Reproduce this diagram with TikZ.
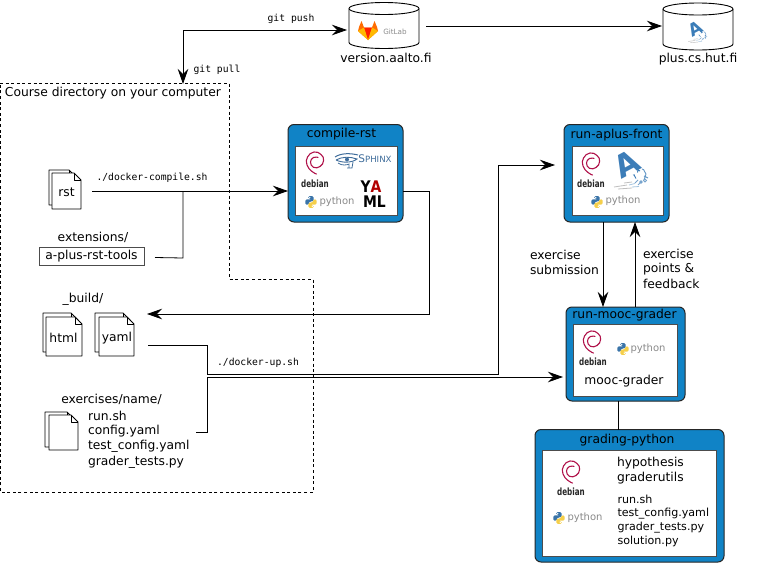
\documentclass[tikz,border=0pt]{standalone}
\usepackage{fontspec}
\setmainfont{DejaVu Sans}
\setmonofont{DejaVu Sans Mono}
\usetikzlibrary{arrows.meta}
\definecolor{boxblue}{HTML}{1083C6}
\definecolor{debred}{HTML}{B0124A}
\definecolor{pyblue}{HTML}{3A74A8}
\definecolor{pyyellow}{HTML}{F5CF4A}
\definecolor{pygray}{HTML}{8A8A8A}
\definecolor{aplusblue}{HTML}{3C7DB8}
\definecolor{sphinxblue}{HTML}{3F6D9B}
\tikzset{
  x=1pt,y=-1pt,
  every node/.style={inner sep=0pt,outer sep=0pt,font=\fontsize{12.3}{14}\selectfont},
  arr/.style={-{Stealth[length=15pt,width=10.5pt,inset=5pt]},line width=0.8pt,black},
  plain/.style={line width=0.8pt,black},
  outerbox/.style={draw=black!85,line width=1pt,fill=boxblue,rounded corners=6pt},
  innerbox/.style={draw=black!70,line width=0.8pt,fill=white},
  mono/.style={font=\ttfamily\fontsize{9.7}{11}\selectfont},
  small/.style={font=\fontsize{11.1}{13}\selectfont},
  pagefile/.style={draw=black,line width=0.9pt,fill=white,line join=round},
  cyl/.style={draw=black,line width=0.9pt,fill=white},
  pylabel/.style={font=\fontsize{10}{11}\selectfont,text=pygray},
  deblabel/.style={font=\bfseries\fontsize{10}{11}\selectfont,xscale=0.72,text=black!85}
}
\newcommand{\filepage}[4]{% x y w h: page with a folded corner
  \draw[pagefile] (#1,#2) -- ++(#3-7,0) -- ++(7,7) -- ++(0,#4-7) -- ++(-#3,0) -- cycle;
  \draw[pagefile,fill=none] (#1+#3-7,#2) -- ++(0,7) -- ++(7,0);
}
\newcommand{\debianlogo}[4]{% name sx sy: swirl centre; text below offset
  \draw[debred,line width=1.1pt,line cap=round] plot[smooth,tension=0.8] coordinates
    {(#2+1.5,#3+11) (#2-3,#3+8.5) (#2-8,#3+2) (#2-7.5,#3-6) (#2-1,#3-11) (#2+6,#3-8.5) (#2+8.6,#3-2.5) (#2+5,#3+3.5) (#2-1.5,#3+4.3) (#2-4.5,#3-1) (#2-1.5,#3-5.5) (#2+3,#3-5.6)};
  \node[deblabel] (#1) at (#4) {debian};
}
\newcommand{\pythonicon}[2]{% centre
  \begin{scope}[shift={(#1,#2)}]
    \fill[pyblue,rounded corners=1.3pt] (-2.8,-5.8) -- (2.6,-5.8) -- (2.6,-0.6) -- (-1.2,-0.6) -- (-2.4,0.6) -- (-2.4,2.7) -- (-5.6,2.7) -- (-5.6,-2.6) -- (0.4,-2.6) -- (0.4,-3.4) -- (-2.8,-3.4) -- cycle;
    \fill[pyyellow,rounded corners=1.3pt] (2.8,5.8) -- (-2.6,5.8) -- (-2.6,0.6) -- (1.2,0.6) -- (2.4,-0.6) -- (2.4,-2.7) -- (5.6,-2.7) -- (5.6,2.6) -- (-0.4,2.6) -- (-0.4,3.4) -- (2.8,3.4) -- cycle;
    \fill[white] (-1.3,-4.4) circle (0.7pt);
    \fill[white] (1.3,4.4) circle (0.7pt);
  \end{scope}
}
\newcommand{\apluslogo}[4]{% name x y scale
  \begin{scope}[shift={(#2,#3)},scale=#4]
    \node[scale=#4,rotate=28,font=\bfseries\fontsize{31}{32}\selectfont,text=aplusblue] (#1) at (-3,-6) {A};
    \draw[aplusblue,line width=0.9pt*#4] (3,5) .. controls (6,4) and (3,7) .. (6,8.5);
    \draw[aplusblue,line width=0.9pt*#4] (6,-1) -- (10,1) (8.5,-2.5) -- (7.5,2.5);
    \draw[aplusblue!80,line width=0.9pt*#4] (12,-1) .. controls (15,-1) and (14,3) .. (16,4);
    \draw[aplusblue!80,line width=0.9pt*#4] (14,6) -- (18,8) (16,4) -- (14,10);
    \draw[aplusblue!70,line width=0.9pt*#4] (5,13) -- (8,10) (8,15) -- (11,12) (11,12) circle (1.3pt*#4) (15,10.5) circle (1.6pt*#4);
    \draw[black!25,line width=0.8pt*#4] (-16,17) -- (-3,15) (-12,19) -- (2,18) (-6,13) -- (2,12);
    \draw[aplusblue!45,line width=0.8pt*#4] (2,17) -- (9,16.5) (-1,15) -- (5,13.5);
  \end{scope}
}
\begin{document}
\begin{tikzpicture}
\useasboundingbox (0,0) rectangle (761,563);
% dashed course directory
\draw[black,line width=0.8pt,dash pattern=on 3pt off 2.6pt] (0,83) -- (229,83) -- (229,279) -- (313,279) -- (313,492) -- (0,492) -- cycle;
\node[anchor=west] (coursedir) at (5,93.5) {Course directory on your computer};

% servers
\draw[cyl] (349,8.5) arc[start angle=180,end angle=0,x radius=35,y radius=-6] -- (419,42.5) arc[start angle=0,end angle=180,x radius=35,y radius=6] -- cycle;
\draw[cyl] (349,8.5) arc[start angle=180,end angle=360,x radius=35,y radius=-6];
\coordinate (gitlabW) at (347,30);
\coordinate (gitlabE) at (426,26);
\node (versionlbl) at (386,58) {version.aalto.fi};
\fill[orange!85!red] (359,27) -- (361.5,21) -- (364,27.5) -- (372,27.5) -- (374.5,21) -- (377,27) -- (378,31) -- (368,40) -- (358,31) -- cycle;
\fill[red!75!orange] (364,27.5) -- (372,27.5) -- (368,40) -- cycle;
\fill[orange!55!yellow] (358,31) -- (364,27.5) -- (368,40) -- cycle;
\fill[orange!55!yellow] (378,31) -- (372,27.5) -- (368,40) -- cycle;
\node[font=\fontsize{7.2}{8}\selectfont,text=black!45] (gitlabtxt) at (395,32) {GitLab};

\draw[cyl] (663,9) arc[start angle=180,end angle=0,x radius=35,y radius=-6] -- (733,44) arc[start angle=0,end angle=180,x radius=35,y radius=6] -- cycle;
\draw[cyl] (663,9) arc[start angle=180,end angle=360,x radius=35,y radius=-6];
\coordinate (plusW) at (662,26);
\node (pluslbl) at (698,59) {plus.cs.hut.fi};
\apluslogo{plusA}{697}{32}{0.56}

\coordinate (pullend) at (183,84);
\draw[arr] (183,30) -- (gitlabW);
\draw[arr] (183,30) -- (pullend);
\draw[arr] (gitlabE) -- (plusW);
\node[mono] (pushlbl) at (291,19) {git push};
\node[mono] (pulllbl) at (217,70) {git pull};

% rst
\filepage{49}{170}{27}{35}
\filepage{52}{173}{29}{36}
\node (rsttxt) at (66.5,192) {rst};
\coordinate (rstout) at (92,191);
\coordinate (rstjoin) at (183,191);
\node[mono] (compilelbl) at (152,178) {./docker-compile.sh};
\node (extlbl) at (93,237) {extensions/};
\node[draw=black!70,line width=0.8pt,minimum width=105pt,minimum height=18pt] (tools) at (91.5,256) {a-plus-rst-tools};
\coordinate (toolsout) at (155,257.5);

% build
\node (buildlbl) at (83,299) {\_build/};
\filepage{43}{313}{35}{39}
\filepage{46}{317}{36}{39}
\node (htmltxt) at (63.5,338) {html};
\filepage{95}{313}{35}{39}
\filepage{99}{317}{35}{39}
\node (yamltxt) at (117,338) {yaml};
\coordinate (yamlout) at (148,345);

% exercises
\node (exlbl) at (111.5,399) {exercises/name/};
\filepage{45}{412}{29}{35}
\filepage{49}{415}{29}{35}
\node[anchor=west] (f1) at (88,416) {run.sh};
\node[anchor=west] (f2) at (88,431) {config.yaml};
\node[anchor=west] (f3) at (88,446.5) {test\_config.yaml};
\node[anchor=west] (f4) at (88,462) {grader\_tests.py};
\coordinate (exout) at (196,432);
\node[mono] (uplbl) at (258,363) {./docker-up.sh};

% containers
\draw[outerbox] (288,124.5) rectangle (403,222);
\draw[innerbox] (295.5,146) rectangle (397,215);
\coordinate (compileW) at (288,191);
\coordinate (compileE) at (403,191);
\node (compiletitle) at (341.5,134) {compile-rst};
\debianlogo{deb1}{315}{163}{315,184}
\pythonicon{311}{202}
\node[pylabel] (py1) at (337,202) {python};
% sphinx eye
\draw[sphinxblue,line width=1pt] (335,157) .. controls (341,153) and (350,153) .. (358,155);
\draw[sphinxblue,line width=0.9pt] (336,160) .. controls (342,156.5) and (350,156.5) .. (357,159) .. controls (352,163) and (342,163) .. (336,160);
\fill[sphinxblue] (347,159.5) circle (2pt);
\draw[sphinxblue,line width=0.8pt] (338,163) .. controls (342,166) and (347,165) .. (349,164) -- (349,168) (353,162) -- (352,168) -- (347,168);
\node[font=\fontsize{10.5}{12}\selectfont,text=sphinxblue] (sphinxS) at (375,158.5) {S\fontsize{8.6}{10}\selectfont PHINX};
\node[font=\bfseries\fontsize{16}{17}\selectfont,xscale=0.87] (yamlYA) at (371,187) {Y\textcolor{red!70!black}{A}};
\node[font=\bfseries\fontsize{16}{17}\selectfont,xscale=0.87] (yamlML) at (374.5,201.5) {ML};

\draw[outerbox] (564,124.5) rectangle (669,222);
\draw[innerbox] (572,146) rectangle (663,215);
\coordinate (frontW) at (555,165);
\node (fronttitle) at (616.5,135) {run-aplus-front};
\debianlogo{deb2}{591}{164}{591,184}
\apluslogo{frontA}{630}{170}{1}
\pythonicon{597}{202}
\node[pylabel] (py2) at (623,201) {python};

\draw[outerbox] (566,307) rectangle (685,401);
\draw[innerbox] (573,324) rectangle (677,396);
\coordinate (moocW) at (563,377);
\node (mooctitle) at (624.5,315.5) {run-mooc-grader};
\debianlogo{deb3}{592}{342}{593,362}
\pythonicon{623}{349}
\node[pylabel] (py3) at (648,349) {python};
\node (moocg) at (624,381) {mooc-grader};

\draw[outerbox] (535,429.5) rectangle (724,562);
\draw[innerbox] (542.5,450.5) rectangle (716,556);
\node (gradingtitle) at (627,440) {grading-python};
\debianlogo{deb4}{571}{472}{571,492}
\pythonicon{559}{518}
\node[pylabel] (py4) at (585,518) {python};
\node[anchor=west] (hyp) at (617,463) {hypothesis};
\node[anchor=west] (gut) at (617,478.5) {graderutils};
\node[anchor=west,small] (g1) at (617.5,499.5) {run.sh};
\node[anchor=west,small] (g2) at (617.5,513.5) {test\_config.yaml};
\node[anchor=west,small] (g3) at (617.5,527.5) {grader\_tests.py};
\node[anchor=west,small] (g4) at (617.5,541) {solution.py};

% connectors
\draw[arr] (rstout) -- (compileW);
\draw[plain] (rstjoin) -- (183,258) -- (toolsout);
\draw[arr] (compileE) -- (429,191) -- (429,314) -- (147,314);
\draw[arr] (yamlout) -- (207,345) -- (207,374) -- (498,374) -- (498,165) -- (frontW);
\draw[arr] (exout) -- (207,432) -- (207,377) -- (moocW);
\draw[arr] (603,222) -- (603,307);
\draw[arr] (635,307) -- (635,222);
\draw[plain] (618,401) -- (618,429.5);

\node[anchor=west] (sub1) at (530,255) {exercise};
\node[anchor=west] (sub2) at (530,270) {submission};
\node[anchor=west] (fb1) at (643,254) {exercise};
\node[anchor=west] (fb2) at (643,269) {points \&};
\node[anchor=west] (fb3) at (643,284) {feedback};
\end{tikzpicture}
\end{document}
